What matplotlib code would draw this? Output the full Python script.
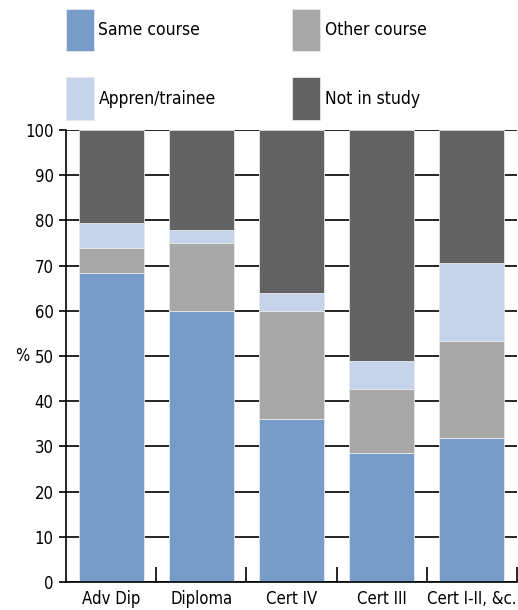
import numpy as np
import matplotlib
matplotlib.use("Agg")
import matplotlib.pyplot as plt

plt.rcParams['font.family'] = ['DejaVu Sans']
plt.rcParams['font.stretch'] = 'condensed'
plt.rcParams['font.size'] = 12

categories = ["Adv Dip", "Diploma", "Cert IV", "Cert III", "Cert I-II, &c."]
same_course = [68.4, 59.9, 36.1, 28.5, 31.9]
other_course = [5.5, 15.1, 23.8, 14.2, 21.5]
appren = [5.5, 2.9, 4.0, 6.3, 17.2]
series_names = ["Same course", "Other course", "Appren/trainee", "Not in study"]
colors = ["#789cca", "#a8a8a8", "#c5d4ea", "#636363"]

not_in_study = [100 - a - b - c for a, b, c in zip(same_course, other_course, appren)]
series = [same_course, other_course, appren, not_in_study]

fig = plt.figure(figsize=(5.18, 6.10), dpi=100)
ax = fig.add_axes([66 / 518, 1 - 582 / 610, 451 / 518, 452 / 610])

x = np.arange(len(categories))
bottom = np.zeros(len(categories))
handles = []
for name, vals, col in zip(series_names, series, colors):
    b = ax.bar(x, vals, bottom=bottom, width=0.72, color=col, edgecolor="#e8e8e8",
               linewidth=0.6, label=name, zorder=2)
    handles.append(b)
    bottom += np.array(vals)

ax.set_ylim(0, 100)
ax.set_xlim(-0.5, len(categories) - 0.5)
ax.set_yticks(np.arange(0, 101, 10))
ax.yaxis.grid(True, color="black", linewidth=1.2, zorder=0)
ax.set_axisbelow(True)

ax.set_xticks(x)
ax.set_xticklabels(categories)
ax.tick_params(axis="x", length=0, pad=6)
ax.set_xticks(np.arange(0.5, len(categories), 1), minor=True)
ax.tick_params(axis="x", which="minor", direction="in", length=11, width=1.2, color="black")
ax.tick_params(axis="y", direction="out", length=5, width=1.2, pad=4)

for s in ["top", "right"]:
    ax.spines[s].set_visible(False)
ax.spines["left"].set_linewidth(1.2)
ax.spines["bottom"].set_linewidth(1.2)

ax.set_ylabel("%", rotation=0, labelpad=2, va="center")

# legend fills by column, so reorder to read row-wise like the original
order = [0, 2, 1, 3]
fig.legend([handles[i] for i in order], [series_names[i] for i in order], ncol=2,
           loc="upper left", bbox_to_anchor=(66 / 518, 1 - 9 / 610),
           frameon=False, borderpad=0, borderaxespad=0, fontsize=12.5,
           handlelength=1.62, handleheight=3.38, handletextpad=0.25,
           labelspacing=1.5, columnspacing=4.41)

fig.savefig("out.png", dpi=100)
